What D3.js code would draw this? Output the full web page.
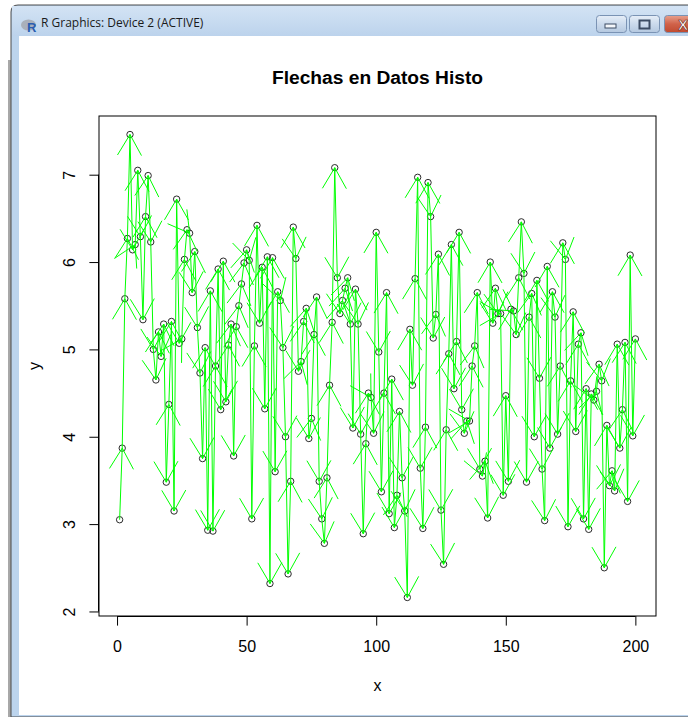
<!DOCTYPE html>
<html>
<head>
<meta charset="utf-8">
<script src="https://cdn.jsdelivr.net/npm/d3@7"></script>
<style>
  html, body { margin: 0; padding: 0; background: #ffffff; }
  svg { display: block; }
</style>
</head>
<body>
<svg id="win" width="688" height="717"></svg>
<script>
// Series: one value per observation, plotted against its index 1..n
const yValues = [
  3.05, 3.87, 5.58, 6.27, 7.46, 6.14, 6.20, 7.05, 6.29, 5.34,
  6.52, 6.99, 6.23, 5.00, 4.65, 5.20, 4.92, 5.29, 3.48, 4.37,
  5.32, 3.15, 6.72, 5.07, 5.12, 6.03, 6.37, 6.33, 5.65, 6.12,
  5.25, 4.73, 3.75, 5.02, 2.93, 5.67, 2.92, 4.81, 5.92, 4.31,
  6.01, 4.40, 5.05, 5.29, 3.78, 5.26, 5.50, 5.75, 5.99, 6.14,
  6.02, 3.06, 5.04, 6.42, 5.30, 5.94, 4.32, 6.06, 2.32, 6.05,
  3.60, 5.66, 5.56, 5.02, 4.00, 2.43, 3.49, 6.40, 6.04, 4.75,
  4.86, 5.32, 5.47, 3.98, 4.21, 5.17, 5.60, 3.49, 3.06, 2.78,
  3.53, 4.59, 5.31, 7.08, 5.82, 5.41, 5.56, 5.70, 5.82, 5.29,
  4.10, 5.69, 5.29, 4.03, 2.89, 3.92, 4.50, 4.45, 4.04, 6.34,
  4.97, 3.37, 4.50, 5.65, 3.12, 4.66, 2.96, 3.33, 4.29, 3.53,
  3.15, 2.16, 5.23, 4.59, 5.81, 6.97, 3.64, 2.95, 4.11, 6.91,
  6.52, 5.13, 5.40, 6.09, 3.16, 2.54, 4.08, 4.95, 6.20, 4.55,
  5.09, 6.34, 4.31, 4.04, 4.18, 4.18, 4.81, 5.04, 5.65, 3.63,
  3.55, 3.72, 3.07, 6.00, 5.30, 5.70, 5.41, 5.41, 3.33, 4.47,
  3.49, 5.46, 5.44, 5.17, 5.82, 6.46, 5.87, 3.48, 5.37, 5.64,
  4.00, 5.79, 4.67, 3.63, 3.04, 5.95, 3.87, 5.66, 5.37, 4.03,
  4.81, 6.22, 6.03, 2.97, 4.64, 5.43, 4.06, 5.06, 5.19, 3.06,
  4.55, 2.94, 4.49, 4.42, 4.52, 4.83, 4.64, 2.50, 4.13, 3.44,
  3.61, 3.38, 5.06, 3.87, 4.31, 5.08, 3.26, 6.08, 4.01, 5.12
];
const xTicks = [0, 50, 100, 150, 200];
const yTicks = [2, 3, 4, 5, 6, 7];
const mainTitle = "Flechas en Datos Histo";
const xLabel = "x";
const yLabel = "y";
const windowTitle = "R Graphics: Device 2 (ACTIVE)";

const svg = d3.select("#win");
const W = 688, H = 717;
const FONT = "'Liberation Sans', Arial, sans-serif";

// ---------- window frame ----------
const defs = svg.append("defs");
const tg = defs.append("linearGradient").attr("id", "titleGrad").attr("x1", 0).attr("y1", 0).attr("x2", 0).attr("y2", 1);
tg.append("stop").attr("offset", "0%").attr("stop-color", "#d3e3f4");
tg.append("stop").attr("offset", "100%").attr("stop-color", "#bcd3ec");
const bg = defs.append("linearGradient").attr("id", "btnGrad").attr("x1", 0).attr("y1", 0).attr("x2", 0).attr("y2", 1);
bg.append("stop").attr("offset", "0%").attr("stop-color", "#e6eef8");
bg.append("stop").attr("offset", "50%").attr("stop-color", "#cbdaec");
bg.append("stop").attr("offset", "100%").attr("stop-color", "#b4c8e0");
const cg = defs.append("linearGradient").attr("id", "closeGrad").attr("x1", 0).attr("y1", 0).attr("x2", 0).attr("y2", 1);
cg.append("stop").attr("offset", "0%").attr("stop-color", "#e8a08c");
cg.append("stop").attr("offset", "50%").attr("stop-color", "#d0624a");
cg.append("stop").attr("offset", "100%").attr("stop-color", "#c04a30");

svg.append("rect").attr("width", W).attr("height", H).attr("fill", "#ffffff");
svg.append("rect").attr("x", 8).attr("y", 60).attr("width", 3).attr("height", H - 60).attr("fill", "#a8a8a8");
// outer frame with rounded top-left corner
svg.append("path")
  .attr("d", `M11,${H} L11,12 Q11,5 18,5 L${W + 10},5 L${W + 10},${H} Z`)
  .attr("fill", "#bcd4ed").attr("stroke", "#4a4a4a").attr("stroke-width", 1);
svg.append("rect").attr("x", 12).attr("y", 6).attr("width", W).attr("height", 30).attr("fill", "url(#titleGrad)");
svg.append("rect").attr("x", 19).attr("y", 36).attr("width", W - 19).attr("height", 679).attr("fill", "#ffffff");

// window icon
const icon = svg.append("g").attr("transform", "translate(21,19)");
icon.append("ellipse").attr("cx", 7.5).attr("cy", 6).attr("rx", 7.5).attr("ry", 5.5).attr("fill", "#a9b0ba");
icon.append("text").attr("x", 6).attr("y", 13).attr("font-family", FONT).attr("font-weight", "bold")
  .attr("font-size", 13).attr("fill", "#2a5db0").text("R");
svg.append("text").attr("x", 41).attr("y", 27).attr("font-family", "'Open Sans', 'Noto Sans', sans-serif")
  .attr("font-size", 12).attr("fill", "#1a1a1a").text(windowTitle);

// caption buttons
function capBtn(x, w, fill) {
  svg.append("rect").attr("x", x + 0.5).attr("y", 15.5).attr("width", w).attr("height", 17).attr("rx", 3)
    .attr("fill", fill).attr("stroke", "#7a93b4");
}
capBtn(596, 30, "url(#btnGrad)");
capBtn(629, 30, "url(#btnGrad)");
capBtn(664, 40, "url(#closeGrad)");
svg.append("rect").attr("x", 605).attr("y", 24).attr("width", 11).attr("height", 4).attr("fill", "#f4f7fb").attr("stroke", "#3c4c64");
svg.append("rect").attr("x", 639.5).attr("y", 20.5).attr("width", 10).attr("height", 8).attr("fill", "none").attr("stroke", "#3c4c64").attr("stroke-width", 2);
svg.append("text").attr("x", 683).attr("y", 30).attr("text-anchor", "middle").attr("font-family", FONT)
  .attr("font-weight", "bold").attr("font-size", 15).attr("fill", "#ffffff").attr("stroke", "#6a2a1a").attr("stroke-width", 0.6).text("X");

// ---------- plot ----------
const box = { left: 99, right: 656, top: 116, bottom: 616 };
const n = yValues.length;
const idx = d3.range(1, n + 1);
const yExt = d3.extent(yValues);
const xPad = (n - 1) * 0.04, yPad = (yExt[1] - yExt[0]) * 0.04;

const x = d3.scaleLinear().domain([1 - xPad, n + xPad]).range([box.left, box.right]);
const y = d3.scaleLinear().domain([yExt[0] - yPad, yExt[1] + yPad]).range([box.bottom, box.top]);

const plot = svg.append("g");

// points (open circles)
plot.append("g").selectAll("circle").data(yValues).join("circle")
  .attr("cx", (d, i) => x(idx[i])).attr("cy", d => y(d)).attr("r", 3.2)
  .attr("fill", "none").attr("stroke", "#2b2b2b").attr("stroke-width", 1);

// arrows from each observation to the next
const headLen = 24, headAng = Math.PI / 6;
const arrows = plot.append("g").attr("stroke", "#00ff00").attr("stroke-width", 1).attr("fill", "none");
for (let i = 0; i < n - 1; i++) {
  const x0 = x(idx[i]), y0 = y(yValues[i]);
  const x1 = x(idx[i + 1]), y1 = y(yValues[i + 1]);
  const th = Math.atan2(y1 - y0, x1 - x0);
  const ax = x1 - headLen * Math.cos(th - headAng), ay = y1 - headLen * Math.sin(th - headAng);
  const bx = x1 - headLen * Math.cos(th + headAng), by = y1 - headLen * Math.sin(th + headAng);
  arrows.append("path").attr("d", `M${x0},${y0}L${x1},${y1}M${ax},${ay}L${x1},${y1}L${bx},${by}`);
}

// box
svg.append("rect").attr("x", box.left).attr("y", box.top)
  .attr("width", box.right - box.left).attr("height", box.bottom - box.top)
  .attr("fill", "none").attr("stroke", "#000").attr("stroke-width", 1);

// axes
const xAxis = d3.axisBottom(x).tickValues(xTicks).tickSize(9.6).tickPadding(14).tickFormat(d3.format("d"));
const gx = svg.append("g").attr("transform", `translate(0,${box.bottom})`).call(xAxis);
gx.select(".domain").attr("d", `M${x(xTicks[0])},0.5H${x(xTicks[xTicks.length - 1])}`).attr("stroke", "#000");
gx.selectAll(".tick line").attr("stroke", "#000");
gx.selectAll(".tick text").attr("font-family", FONT).attr("font-size", 16).attr("fill", "#000")
  .attr("y", 36).attr("dy", null);

const yAxis = d3.axisLeft(y).tickValues(yTicks).tickSize(9.6).tickFormat(d3.format("d"));
const gy = svg.append("g").attr("transform", `translate(${box.left},0)`).call(yAxis);
gy.select(".domain").attr("d", `M-0.5,${y(yTicks[0])}V${y(yTicks[yTicks.length - 1])}`).attr("stroke", "#000");
gy.selectAll(".tick line").attr("stroke", "#000");
gy.selectAll(".tick text").attr("font-family", FONT).attr("font-size", 16).attr("fill", "#000")
  .attr("x", null).attr("dy", null).attr("text-anchor", "middle")
  .attr("transform", "translate(-24,0) rotate(-90)").attr("y", 0);

// titles
svg.append("text").attr("x", (box.left + box.right) / 2).attr("y", 84).attr("text-anchor", "middle")
  .attr("font-family", FONT).attr("font-weight", "bold").attr("font-size", 19.2).attr("fill", "#000").text(mainTitle);
svg.append("text").attr("x", (box.left + box.right) / 2).attr("y", 691).attr("text-anchor", "middle")
  .attr("font-family", FONT).attr("font-size", 16).attr("fill", "#000").text(xLabel);
svg.append("text").attr("transform", `translate(40,${(box.top + box.bottom) / 2}) rotate(-90)`).attr("text-anchor", "middle")
  .attr("font-family", FONT).attr("font-size", 16).attr("fill", "#000").text(yLabel);
</script>
</body>
</html>
